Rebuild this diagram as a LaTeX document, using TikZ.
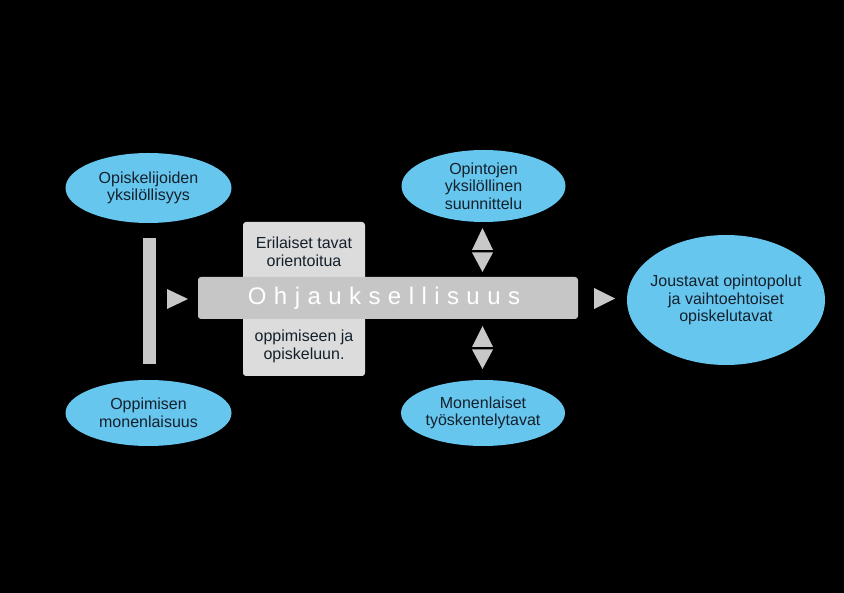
\documentclass[tikz,border=0pt]{standalone}
\usepackage{fontspec}
\setmainfont{Liberation Sans}
\usetikzlibrary{shapes.geometric}
\definecolor{blob}{HTML}{66C6EE}
\definecolor{ink}{HTML}{14202C}
\definecolor{boxgray}{HTML}{DCDCDC}
\definecolor{bargray}{HTML}{C6C6C6}
\definecolor{tri}{HTML}{C8C8C8}
\tikzset{
  blobshape/.style={ellipse, fill=blob, draw=none, inner sep=0pt},
  txt/.style={align=center, text=ink, font=\fontsize{16}{17.5}\selectfont, inner sep=0pt},
  tripiece/.style={fill=tri, draw=none}
}
\begin{document}
\begin{tikzpicture}[x=1pt,y=-1pt]
\fill[black] (0,0) rectangle (844,593);
\useasboundingbox (0,0) rectangle (844,593);
% ellipses
\node[blobshape, minimum width=166pt, minimum height=70pt] (e1) at (148.5,188) {};
\node[txt] (t1) at (e1) {Opiskelijoiden\\yksilöllisyys};
\node[blobshape, minimum width=166pt, minimum height=66pt] (e2) at (148.5,413) {};
\node[txt] (t2) at (e2) {Oppimisen\\monenlaisuus};
\node[blobshape, minimum width=164pt, minimum height=72pt] (e3) at (483.5,186) {};
\node[txt] (t3) at (e3) {Opintojen\\yksilöllinen\\suunnittelu};
\node[blobshape, minimum width=164pt, minimum height=66pt] (e4) at (483,413) {};
\node[txt] (t4) at (e4) {Monenlaiset\\työskentelytavat};
\node[blobshape, minimum width=198pt, minimum height=130pt] (e5) at (726,300) {};
\node[txt] (t5) at (e5) {Joustavat opintopolut\\ja vaihtoehtoiset\\opiskelutavat};
% vertical bar
\fill[tri] (143,238) rectangle (156,364);
% gray box
\fill[boxgray, rounded corners=3pt] (243,222) rectangle (365,376);
\node[txt, font=\fontsize{16}{18}\selectfont] (g1) at (304,252) {Erilaiset tavat\\orientoitua};
\node[txt, font=\fontsize{16}{18}\selectfont] (g2) at (304,346) {oppimiseen ja\\opiskeluun.};
% main bar
\fill[bargray, rounded corners=3pt] (198,277) rectangle (578,319);
\node[inner sep=0pt, text=white, font=\fontsize{24}{26}\selectfont\addfontfeature{LetterSpace=31}] (bar) at (384,298) {Ohjauksellisuus};
% arrows
\fill[tripiece] (167,289) -- (188,299) -- (167,309) -- cycle;
\fill[tripiece] (594,288) -- (615,298.5) -- (594,309) -- cycle;
\fill[tripiece] (472,250) -- (482.5,228) -- (493,250) -- cycle;
\fill[tripiece] (472,252.5) -- (482.5,272) -- (493,252.5) -- cycle;
\fill[tripiece] (472,347) -- (482.5,326) -- (493,347) -- cycle;
\fill[tripiece] (472,349.5) -- (482.5,369) -- (493,349.5) -- cycle;
\end{tikzpicture}
\end{document}
